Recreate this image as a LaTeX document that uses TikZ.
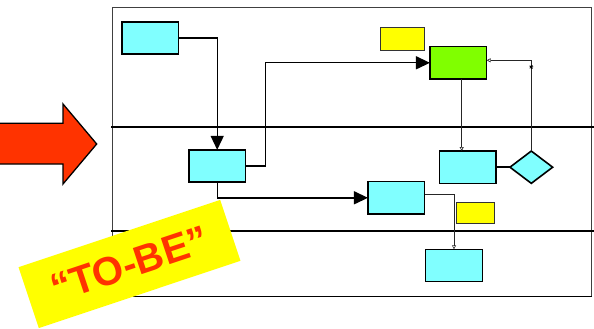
\documentclass[tikz,border=0pt]{standalone}
\usepackage{fontspec}
\setmainfont{Liberation Sans}
\usetikzlibrary{arrows.meta,shapes.geometric}
\definecolor{boxcyan}{HTML}{80FFFF}
\definecolor{boxgreen}{HTML}{80FF00}
\definecolor{boxyellow}{HTML}{FFFF00}
\definecolor{arrowred}{HTML}{FF3300}
\tikzset{
  procbox/.style={draw=black,line width=1.6pt,fill=boxcyan,minimum width=56.7pt,minimum height=32.3pt,inner sep=0pt,outer sep=0pt},
  notebox/.style={draw=black!80,line width=1pt,fill=boxyellow,inner sep=0pt,outer sep=0pt},
  decbox/.style={diamond,draw=black,line width=1.6pt,fill=boxcyan,minimum width=42.7pt,minimum height=32.3pt,inner sep=0pt,outer sep=0pt},
  bigflow/.style={line width=1.4pt,-{Triangle[length=14pt,width=13pt]}},
  smallflow/.style={line width=0.8pt,draw=black!85,-{Triangle[open,length=4pt,width=4pt,line width=0.6pt]}},
  frameline/.style={line width=1pt,draw=black!75},
  laneline/.style={line width=1.6pt,draw=black}
}
\begin{document}
\begin{tikzpicture}[x=1pt,y=-1pt]
\useasboundingbox (0,0) rectangle (594,329);
% frame
\draw[frameline] (112.5,8) rectangle (591.7,296.5);
\draw[laneline] (111,127) -- (594,127);
\draw[laneline] (111,230.7) -- (594,230.7);
\draw[laneline] (111,296.3) -- (591.7,296.3);
% big red arrow
\draw[line width=1.3pt,fill=arrowred,line join=miter] (0,123.3) -- (63,123.3) -- (63,104) -- (96.7,144) -- (63,184) -- (63,164) -- (0,164);
% nodes
\node[procbox] (b1) at (150.2,38) {};
\node[procbox] (b2) at (217.2,166) {};
\node[procbox,fill=boxgreen] (g) at (458.3,62.8) {};
\node[notebox,minimum width=44pt,minimum height=23pt] (y1) at (402.7,38.8) {};
\node[procbox] (b3) at (467.7,167.2) {};
\node[decbox] (d) at (531.3,167.2) {};
\node[procbox] (b4) at (396.3,197.8) {};
\node[notebox,minimum width=38.3pt,minimum height=21pt] (y2) at (475.8,212.8) {};
\node[procbox] (b5) at (454,265.5) {};
% connectors
\draw[bigflow] (b1.east) -| (b2.north);
\draw[bigflow] (b2.east) -- ++(20,0) |- (g.west);
\draw[bigflow] (b2.south) |- (b4.west);
\draw[smallflow] ([xshift=3.4pt]g.south) -- ([xshift=3.4pt]g.south |- b3.north);
\draw[smallflow] (d.north) |- ([yshift=2.5pt]g.east);
\draw[line width=1.6pt] (b3.east) -- (d.west);
\draw[smallflow] ([yshift=3.5pt]b4.east) -| (b5.north);
% small star mark
\coordinate (st) at (531.3,67);
\draw[line width=0.5pt] ([xshift=-2pt]st) -- ([xshift=2pt]st) ([yshift=-2pt]st) -- ([yshift=2pt]st) ([shift={(-1.5pt,-1.5pt)}]st) -- ([shift={(1.5pt,1.5pt)}]st) ([shift={(-1.5pt,1.5pt)}]st) -- ([shift={(1.5pt,-1.5pt)}]st);
% TO-BE label
\node[fill=boxyellow,rotate=18.45,minimum width=212.6pt,minimum height=64.2pt,inner sep=0pt,text=arrowred,font=\fontsize{40}{40}\selectfont\bfseries] (tobe) at (129.5,264) {“TO-BE”};
\end{tikzpicture}
\end{document}
